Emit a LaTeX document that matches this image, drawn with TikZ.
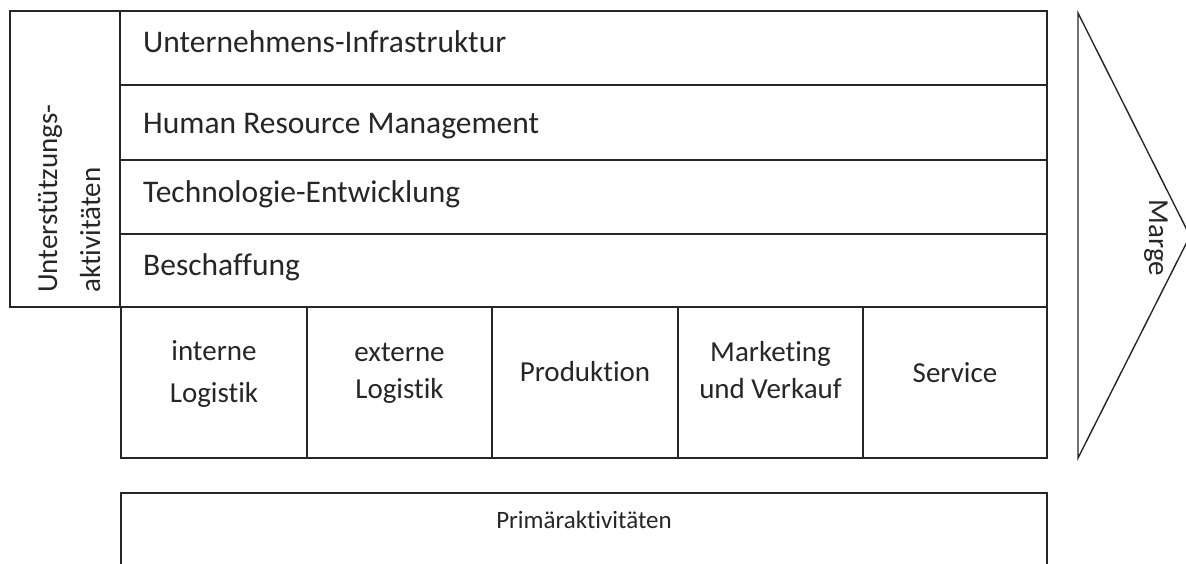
\documentclass[tikz,border=0pt]{standalone}
\usepackage{fontspec}
\setmainfont{Carlito}[Ligatures=NoCommon]
\begin{document}
\begin{tikzpicture}[x=1pt,y=-1pt,
  frame/.style={draw=black!85,line width=1.4pt},
  heavy/.style={draw=black!85,line width=2.6pt},
  rowtext/.style={font=\fontsize{31.5}{37}\selectfont,text=black!85,inner sep=0pt,anchor=base west},
  lbl/.style={font=\fontsize{29}{37}\selectfont,text=black!85,inner sep=0pt},
  small/.style={font=\fontsize{25}{28}\selectfont,text=black!85,inner sep=0pt}
]
\useasboundingbox (0,0) rectangle (1186,563);

% support activities
\draw[frame] (10,11) rectangle (120,307);
\draw[frame] (120,11) -- (1047,11) -- (1047,307);
\draw[frame] (120,85) -- (1047,85);
\draw[frame] (120,160) -- (1047,160);
\draw[frame] (120,234) -- (1047,234);
\draw[heavy] (120,11) -- (120,307);

% primary activities
\draw[frame] (121,307) rectangle (1047,458);
\draw[frame] (307,307) -- (307,458);
\draw[heavy] (492,307) -- (492,458);
\draw[frame] (678,307) -- (678,458);
\draw[frame] (863,307) -- (863,458);
\draw[heavy] (120,307) -- (1047,307);

% label box for the primary activities
\draw[frame] (121,575) -- (121,493) -- (1047,493) -- (1047,575);

% margin chevron
\draw[frame,line join=miter] (1078,458) -- (1078,13) -- (1190,236) -- cycle;

% texts (multi-line nodes sit on the baseline of their last line)
\node[lbl,rotate=90,anchor=base west,align=left,font=\fontsize{29}{43}\selectfont] (support) at (100,293) {Unterstützungs-\\aktivitäten};
\node[rowtext] (infra) at (143,52) {Unternehmens-Infrastruktur};
\node[rowtext] (hrm) at (143,133) {Human Resource Management};
\node[rowtext] (tech) at (143,202) {Technologie-Entwicklung};
\node[rowtext] (procure) at (143,275) {Beschaffung};

\node[lbl,anchor=base,align=center,font=\fontsize{29}{42}\selectfont] (inlog) at (214,402) {interne\\Logistik};
\node[lbl,anchor=base,align=center] (outlog) at (399.5,398) {externe\\Logistik};
\node[lbl,anchor=base] (prod) at (585,381) {Produktion};
\node[lbl,anchor=base,align=center] (mkt) at (770.5,398) {Marketing\\und Verkauf};
\node[lbl,anchor=base] (service) at (955,382) {Service};

\node[lbl,rotate=-90] (margin) at (1156,238) {Marge};
\node[small,anchor=base] (primary) at (584,528) {Primäraktivitäten};
\end{tikzpicture}
\end{document}
